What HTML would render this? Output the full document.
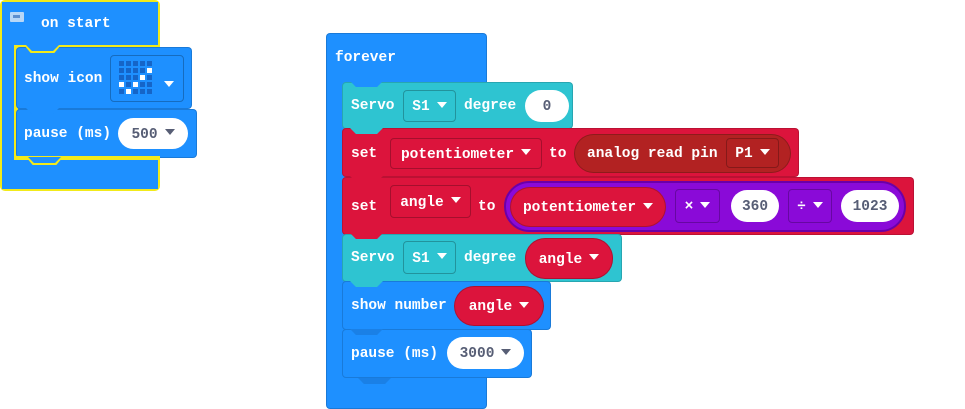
<!DOCTYPE html>
<html><head><meta charset="utf-8"><style>
body{margin:0;width:965px;height:409px;background:#fff;position:relative;overflow:hidden;font-family:"Liberation Mono",monospace;font-weight:bold;font-size:14.5px;color:#fff}
div{position:absolute;box-sizing:border-box}
.t{line-height:1;white-space:nowrap}
.c{display:flex;align-items:center;justify-content:center;padding:3px 0 0 0!important}
.blue{background:#1e90ff}.teal{background:#2ec4d1}.red{background:#dc143c}.dred{background:#b22222}.pur{background:#8a0ad8}
.blk{border-radius:4px;border:1px solid rgba(0,0,0,0.15)}
.tab{height:6px;clip-path:polygon(0 0,100% 0,82% 100%,18% 100%);width:33px;z-index:5}
.fld{border:1px solid rgba(0,0,0,0.25);border-radius:4px}
.ov{background:#fff;border-radius:16px;color:#575e75;text-align:center}
.arr{display:inline-block;width:0;height:0;border-left:5px solid transparent;border-right:5px solid transparent;border-top:6px solid #fff;margin-left:7px;position:relative;top:-3px}
.ov .arr{border-top-color:#575e75}
</style></head><body>

<!-- on start -->
<div class="blue" style="left:0;top:0;width:160px;height:191px;border:2px solid #f2ea1a;border-radius:5px"></div>
<div style="left:2px;top:2px;width:156px;height:187px;background:#1e90ff"></div>
<div style="left:10px;top:12px;width:14px;height:10px;background:#b7d7f7;border-radius:1px"></div>
<div style="left:13px;top:15px;width:7px;height:3px;background:#5c8fcf"></div>
<div class="t" style="left:41px;top:17px">on start</div>
<div style="left:14px;top:45px;width:4px;height:115px;background:#f2ea1a"></div>
<div style="left:14px;top:45px;width:146px;height:3px;background:#f2ea1a"></div>
<div class="blue blk" style="left:16px;top:47px;width:176px;height:62px"></div>
<div class="tab" style="left:24px;top:45px;width:37px;height:8px;background:#f2ea1a"></div>
<div class="blue tab" style="left:26px;top:45px"></div>
<div class="t" style="left:24px;top:72px">show icon</div>
<div class="fld" style="left:110px;top:55px;width:74px;height:47px"></div>
<svg style="position:absolute;left:119px;top:61px" width="36" height="36">
<g fill="#1565c8">
<rect x="0" y="0" width="5" height="5"/><rect x="7" y="0" width="5" height="5"/><rect x="14" y="0" width="5" height="5"/><rect x="21" y="0" width="5" height="5"/><rect x="28" y="0" width="5" height="5"/>
<rect x="0" y="7" width="5" height="5"/><rect x="7" y="7" width="5" height="5"/><rect x="14" y="7" width="5" height="5"/><rect x="21" y="7" width="5" height="5"/>
<rect x="0" y="14" width="5" height="5"/><rect x="7" y="14" width="5" height="5"/><rect x="14" y="14" width="5" height="5"/><rect x="28" y="14" width="5" height="5"/>
<rect x="7" y="21" width="5" height="5"/><rect x="21" y="21" width="5" height="5"/><rect x="28" y="21" width="5" height="5"/>
<rect x="0" y="28" width="5" height="5"/><rect x="14" y="28" width="5" height="5"/><rect x="21" y="28" width="5" height="5"/><rect x="28" y="28" width="5" height="5"/>
</g>
<g fill="#fff"><rect x="28" y="7" width="5" height="5"/><rect x="21" y="14" width="5" height="5"/><rect x="0" y="21" width="5" height="5"/><rect x="14" y="21" width="5" height="5"/><rect x="7" y="28" width="5" height="5"/></g>
</svg>
<div style="left:164px;top:76px"><span class="arr" style="margin:0;top:0"></span></div>
<div class="blue blk" style="left:16px;top:109px;width:181px;height:49px"></div>
<div class="blue tab" style="left:26px;top:108px"></div>
<div class="t" style="left:24px;top:127px">pause (ms)</div>
<div class="ov t c" style="left:118px;top:118px;width:70px;height:31px">500<span class="arr"></span></div>
<div style="left:14px;top:156px;width:146px;height:4px;background:#f2ea1a"></div>
<div class="tab" style="left:26px;top:157px;width:37px;height:8px;background:#f2ea1a"></div>
<div class="blue tab" style="left:28px;top:157px;width:33px;height:6px"></div>

<!-- forever -->
<div class="blue blk" style="left:326px;top:33px;width:161px;height:376px"></div>
<div class="t" style="left:335px;top:51px">forever</div>
<div class="teal blk" style="left:342px;top:82px;width:231px;height:47px"></div>
<div class="blue tab" style="left:350px;top:81px"></div>
<div class="t" style="left:351px;top:99px">Servo</div>
<div class="fld t c" style="left:403px;top:90px;width:53px;height:32px">S1<span class="arr"></span></div>
<div class="t" style="left:464px;top:99px">degree</div>
<div class="ov t c" style="left:525px;top:90px;width:44px;height:32px">0</div>

<div class="red blk" style="left:342px;top:128px;width:457px;height:49px"></div>
<div class="teal tab" style="left:350px;top:128px"></div>
<div class="t" style="left:351px;top:147px">set</div>
<div class="fld t c" style="left:390px;top:138px;width:152px;height:31px">potentiometer<span class="arr"></span></div>
<div class="t" style="left:549px;top:147px">to</div>
<div class="dred t" style="left:574px;top:134px;width:217px;height:39px;border-radius:20px;border:1px solid rgba(0,0,0,0.2)"></div>
<div class="t" style="left:587px;top:147px">analog read pin</div>
<div class="fld t c" style="left:726px;top:138px;width:53px;height:30px">P1<span class="arr"></span></div>

<div class="red blk" style="left:342px;top:177px;width:572px;height:58px"></div>
<div class="red tab" style="left:350px;top:176px"></div>
<div class="t" style="left:351px;top:200px">set</div>
<div class="fld t c" style="left:390px;top:185px;width:81px;height:33px">angle<span class="arr"></span></div>
<div class="t" style="left:478px;top:200px">to</div>
<div class="pur" style="left:504px;top:181px;width:402px;height:51px;border-radius:26px;border:2px solid #6b00a8"></div>
<div class="red t c" style="left:510px;top:187px;width:156px;height:40px;border-radius:20px;border:1px solid rgba(0,0,0,0.2)">potentiometer<span class="arr"></span></div>
<div class="fld t c" style="left:675px;top:189px;width:45px;height:34px">×<span class="arr"></span></div>
<div class="ov t c" style="left:731px;top:190px;width:48px;height:32px">360</div>
<div class="fld t c" style="left:788px;top:189px;width:44px;height:34px">÷<span class="arr"></span></div>
<div class="ov t c" style="left:841px;top:190px;width:58px;height:32px">1023</div>

<div class="teal blk" style="left:342px;top:234px;width:280px;height:48px"></div>
<div class="red tab" style="left:350px;top:233px"></div>
<div class="t" style="left:351px;top:251px">Servo</div>
<div class="fld t c" style="left:403px;top:241px;width:53px;height:33px">S1<span class="arr"></span></div>
<div class="t" style="left:464px;top:251px">degree</div>
<div class="red t c" style="left:525px;top:238px;width:88px;height:41px;border-radius:20px;border:1px solid rgba(0,0,0,0.2)">angle<span class="arr"></span></div>

<div class="blue blk" style="left:342px;top:281px;width:209px;height:49px"></div>
<div class="teal tab" style="left:350px;top:281px"></div>
<div class="t" style="left:351px;top:299px">show number</div>
<div class="red t c" style="left:454px;top:286px;width:90px;height:40px;border-radius:20px;border:1px solid rgba(0,0,0,0.2)">angle<span class="arr"></span></div>

<div class="blue blk" style="left:342px;top:329px;width:190px;height:49px"></div>
<div class="tab" style="left:350px;top:329px;background:#1a80e6"></div>
<div class="t" style="left:351px;top:347px">pause (ms)</div>
<div class="ov t c" style="left:447px;top:337px;width:77px;height:32px">3000<span class="arr"></span></div>
<div class="tab" style="left:358px;top:378px;background:#1a80e6"></div>
</body></html>
